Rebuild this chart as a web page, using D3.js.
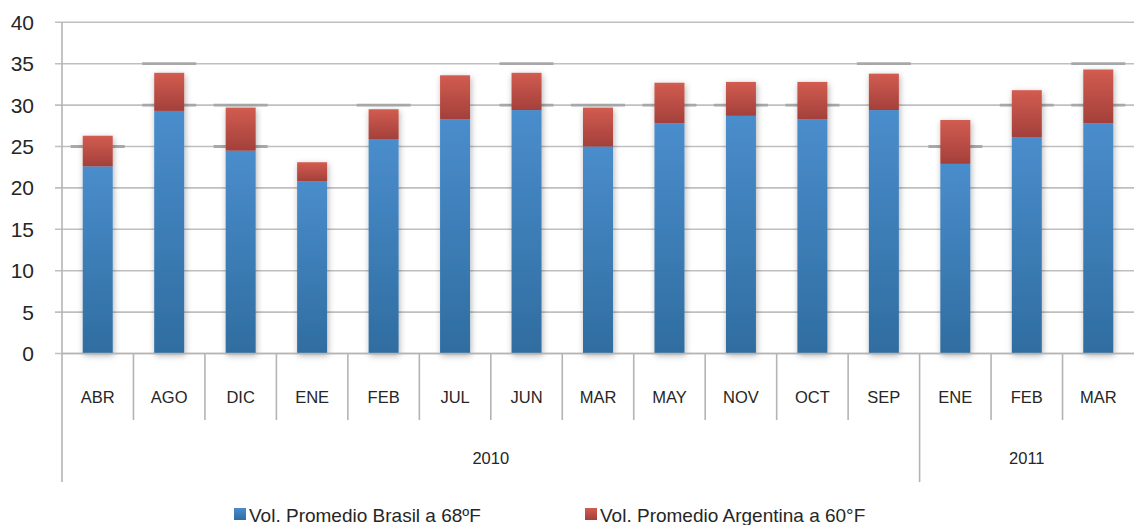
<!DOCTYPE html>
<html>
<head>
<meta charset="utf-8">
<script src="https://cdn.jsdelivr.net/npm/d3@7"></script>
<style>
  body { margin: 0; background: #fff; }
  text { font-family: "Liberation Sans", Arial, sans-serif; fill: #262626; }
</style>
</head>
<body>
<div id="chart"></div>
<script>
// data
var months = ["ABR", "AGO", "DIC", "ENE", "FEB", "JUL", "JUN", "MAR", "MAY", "NOV", "OCT", "SEP", "ENE", "FEB", "MAR"];
var years = ["2010", "2011"];
var yearCounts = [12, 3];
var brasil = [22.6, 29.3, 24.5, 20.8, 25.9, 28.3, 29.4, 25.0, 27.8, 28.7, 28.3, 29.4, 22.9, 26.1, 27.8];
var argentinaTotal = [26.3, 33.9, 29.7, 23.1, 29.5, 33.6, 33.9, 29.7, 32.7, 32.8, 32.8, 33.8, 28.2, 31.8, 34.3];
// darker gridline dashes seen behind some bars
var darkLevels = [[25], [35, 30], [30, 25], [], [30], [], [35, 30], [30], [30], [30], [30], [35], [25], [30], [35, 30]];
var yTicks = [0, 5, 10, 15, 20, 25, 30, 35, 40];
var seriesNames = ["Vol. Promedio Brasil a 68ºF", "Vol. Promedio Argentina a 60°F"];

var width = 1134, height = 525;
var left = 62, right = 1134;
var top0 = 22.3, bottom0 = 353.5;
var barW = 30;

var svg = d3.select("#chart").append("svg")
  .attr("width", width)
  .attr("height", height);

var defs = svg.append("defs");

function grad(id, c1, c2) {
  var g = defs.append("linearGradient").attr("id", id)
    .attr("x1", 0).attr("y1", 0).attr("x2", 0).attr("y2", 1);
  g.append("stop").attr("offset", "0%").attr("stop-color", c1);
  g.append("stop").attr("offset", "100%").attr("stop-color", c2);
}
grad("gBlue", "#4a8dcc", "#2f6da0");
grad("gRed", "#d25c50", "#a3403b");

var shadow = defs.append("filter").attr("id", "shadow")
  .attr("x", "-50%").attr("y", "-20%").attr("width", "200%").attr("height", "140%");
shadow.append("feDropShadow")
  .attr("dx", 1).attr("dy", 2)
  .attr("stdDeviation", 3)
  .attr("flood-color", "#000")
  .attr("flood-opacity", 0.3);

var idx = d3.range(months.length);

var xScale = d3.scaleBand()
  .domain(idx)
  .range([left, right])
  .padding(0);

var yScale = d3.scaleLinear()
  .domain([0, 40])
  .range([bottom0, top0]);

// gridlines
svg.append("g").attr("class", "grid")
  .selectAll("line")
  .data(yTicks)
  .enter()
  .append("line")
  .attr("x1", 55)
  .attr("x2", right)
  .attr("y1", function(d) { return yScale(d); })
  .attr("y2", function(d) { return yScale(d); })
  .attr("stroke", "#bfbfbf")
  .attr("stroke-width", 1.6);

// darker dashes on gridlines
idx.forEach(function(i) {
  darkLevels[i].forEach(function(v) {
    var cx = xScale(i) + xScale.bandwidth() / 2;
    svg.append("line")
      .attr("x1", cx - 27)
      .attr("x2", Math.min(cx + 27, right))
      .attr("y1", yScale(v))
      .attr("y2", yScale(v))
      .attr("stroke", "#a8a8a8")
      .attr("stroke-width", 2.8);
  });
});

// y labels
svg.append("g").attr("class", "yText")
  .selectAll("text")
  .data(yTicks)
  .enter()
  .append("text")
  .attr("x", 34)
  .attr("y", function(d) { return yScale(d); })
  .attr("dy", "0.36em")
  .attr("text-anchor", "end")
  .attr("font-size", 21)
  .text(function(d) { return d; });

// bars
var bars = svg.append("g").attr("class", "bars").attr("filter", "url(#shadow)");

bars.selectAll("rect.blue")
  .data(idx)
  .enter()
  .append("rect")
  .attr("class", "blue")
  .attr("x", function(i) { return xScale(i) + (xScale.bandwidth() - barW) / 2; })
  .attr("width", barW)
  .attr("y", function(i) { return yScale(brasil[i]); })
  .attr("height", function(i) { return yScale(0) - yScale(brasil[i]); })
  .attr("fill", "url(#gBlue)");

bars.selectAll("rect.red")
  .data(idx)
  .enter()
  .append("rect")
  .attr("class", "red")
  .attr("x", function(i) { return xScale(i) + (xScale.bandwidth() - barW) / 2; })
  .attr("width", barW)
  .attr("y", function(i) { return yScale(argentinaTotal[i]); })
  .attr("height", function(i) { return yScale(brasil[i]) - yScale(argentinaTotal[i]); })
  .attr("fill", "url(#gRed)");

// axis lines
var axisColor = "#b4b4b4";
svg.append("line")
  .attr("x1", left).attr("x2", left)
  .attr("y1", top0).attr("y2", 482)
  .attr("stroke", axisColor).attr("stroke-width", 1.6);

svg.append("line")
  .attr("x1", left).attr("x2", right)
  .attr("y1", bottom0).attr("y2", bottom0)
  .attr("stroke", axisColor).attr("stroke-width", 1.6);

// category separators
svg.append("g").selectAll("line")
  .data(idx.slice(1))
  .enter()
  .append("line")
  .attr("x1", function(i) { return xScale(i); })
  .attr("x2", function(i) { return xScale(i); })
  .attr("y1", bottom0)
  .attr("y2", function(i) { return i === yearCounts[0] ? 482 : 420; })
  .attr("stroke", axisColor)
  .attr("stroke-width", 1.6);

// category labels
svg.append("g").selectAll("text")
  .data(idx)
  .enter()
  .append("text")
  .attr("x", function(i) { return xScale(i) + xScale.bandwidth() / 2; })
  .attr("y", 397)
  .attr("dy", "0.36em")
  .attr("text-anchor", "middle")
  .attr("font-size", 16.5)
  .text(function(i) { return months[i]; });

// year labels
var start = 0;
years.forEach(function(yr, k) {
  var x0 = xScale(start);
  var x1 = xScale(start + yearCounts[k] - 1) + xScale.bandwidth();
  svg.append("text")
    .attr("x", (x0 + x1) / 2)
    .attr("y", 458)
    .attr("dy", "0.36em")
    .attr("text-anchor", "middle")
    .attr("font-size", 16.5)
    .text(yr);
  start += yearCounts[k];
});

// legend
var legendX = [234, 585];
var legendFill = ["url(#gBlue)", "url(#gRed)"];
seriesNames.forEach(function(name, k) {
  svg.append("rect")
    .attr("x", legendX[k])
    .attr("y", 508)
    .attr("width", 12)
    .attr("height", 12)
    .attr("fill", legendFill[k]);
  svg.append("text")
    .attr("x", legendX[k] + 15)
    .attr("y", 522)
    .attr("font-size", 19)
    .text(name);
});
</script>
</body>
</html>
